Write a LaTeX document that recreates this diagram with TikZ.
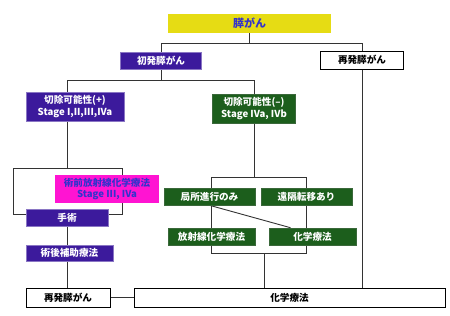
\documentclass[tikz,border=0pt]{standalone}
\usepackage{fontspec}
\setmainfont{Noto Sans CJK JP}
\usepackage{xcolor}
\usetikzlibrary{positioning, calc, backgrounds}

\definecolor{ttlyellow}{HTML}{E6DC14}
\definecolor{ttlblue}{HTML}{3333CC}
\definecolor{indigo}{HTML}{3C1A9C}
\definecolor{forest}{HTML}{1C5E1C}
\definecolor{pinkbox}{HTML}{FF14D2}

\begin{document}
\begin{tikzpicture}[x=1pt, y=-1pt,
    box/.style={rectangle, inner sep=0pt, align=center, font=\fontsize{9.6}{11.5}\selectfont\bfseries},
    titlebox/.style={box, fill=ttlyellow, text=ttlblue, font=\fontsize{11}{12}\selectfont\bfseries},
    purplebox/.style={box, fill=indigo, draw=indigo!60, line width=0.6pt, text=white},
    greenbox/.style={box, fill=forest, draw=forest!70!gray, line width=0.6pt, text=white},
    pinkstage/.style={box, fill=pinkbox, text=ttlblue},
    plainbox/.style={box, fill=white, draw=black, line width=0.9pt},
    link/.style={draw=black!80, line width=0.9pt}
]
\useasboundingbox (0,0) rectangle (450,316);

% Top
\node[titlebox, minimum width=163pt, minimum height=19pt] (pc) at (249.5,23.5) {膵がん};
\node[purplebox, minimum width=81pt, minimum height=17pt] (first) at (161,60.5) {初発膵がん};
\node[plainbox, minimum width=83pt, minimum height=18pt] (recurR) at (362,60) {再発膵がん};

% Resectable branch
\node[purplebox, minimum width=98pt, minimum height=29pt] (resP) at (75,106.5) {切除可能性(+)\\Stage I,II,III,IVa};
\node[pinkstage, minimum width=104pt, minimum height=28pt] (neo) at (107,189) {術前放射線化学療法\\Stage III, IVa};
\node[purplebox, minimum width=82pt, minimum height=17pt] (surg) at (67,217.5) {手術};
\node[purplebox, minimum width=87pt, minimum height=16pt] (adj) at (69.5,253) {術後補助療法};

% Unresectable branch
\node[greenbox, minimum width=83pt, minimum height=29pt] (resN) at (254,108.5) {切除可能性(--)\\Stage IVa, IVb};
\node[greenbox, minimum width=91pt, minimum height=17pt] (local) at (209.5,196.5) {局所進行のみ};
\node[greenbox, minimum width=91pt, minimum height=17pt] (dist) at (306.5,196.5) {遠隔転移あり};
\node[greenbox, minimum width=87pt, minimum height=17pt] (rct) at (211.5,236.5) {放射線化学療法};
\node[greenbox, minimum width=87pt, minimum height=17pt] (chemoG) at (312.5,236.5) {化学療法};

% Bottom
\node[plainbox, minimum width=84pt, minimum height=19pt] (recurL) at (68,297.5) {再発膵がん};
\node[plainbox, minimum width=311pt, minimum height=19pt] (chemoW) at (289.5,297.5) {化学療法};

\coordinate (loopTL) at (13,168);
\coordinate (loopBR) at (122,214);
\coordinate (jR) at (264,253);

% Connections
\begin{scope}[on background layer]
\draw[link] (pc.south) -- (pc |- 0,43);
\draw[link] (first |- 0,43) -- (recurR |- 0,43);
\draw[link] (first |- 0,43) -- (first.north);
\draw[link] (recurR |- 0,43) -- (recurR.north);
\draw[link] (recurR.south) -- (recurR |- chemoW.north);
\draw[link] (first.south) -- (first |- 0,80);
\draw[link] (surg |- 0,80) -- (resN |- 0,80);
\draw[link] (surg |- 0,80) -- (surg |- resP.north);
\draw[link] (resN |- 0,80) -- (resN.north);
\draw[link] (surg |- resP.south) -- (surg |- loopTL);
\draw[link] (loopTL) rectangle (loopBR);
\draw[link] (surg.south) -- (surg |- adj.north);
\draw[link] (surg |- adj.south) -- (surg |- recurL.north);
\draw[link] (recurL.east) -- (chemoW.west);
\draw[link] (resN.south) -- (resN |- 0,177);
\draw[link] (rct |- 0,177) -- (dist |- 0,177);
\draw[link] (rct |- 0,177) -- (rct |- local.north);
\draw[link] (dist |- 0,177) -- (dist.north);
\draw[link] (rct |- local.south) -- (rct.north);
\draw[link] (local.south) -- ([xshift=-22pt]chemoG.north);
\draw[link] (dist.south) -- (dist |- jR);
\draw[link] (rct.south) -- (rct |- jR) -- (dist |- jR);
\draw[link] (jR) -- (jR |- chemoW.north);
\end{scope}
\end{tikzpicture}
\end{document}
